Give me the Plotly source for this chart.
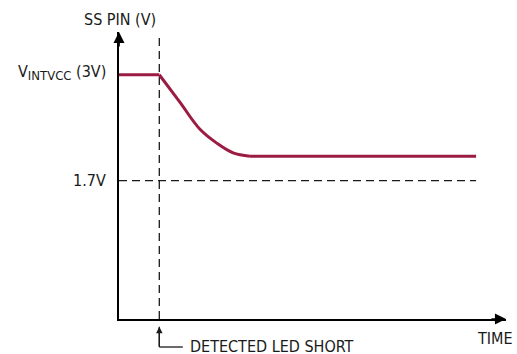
import plotly.graph_objects as go

# SS pin voltage after a detected LED short (time in arbitrary units)
time = [0.0, 1.01, 1.53, 2.03, 2.45, 2.86, 3.28, 8.95]
ss_pin = [3.0, 3.0, 2.66, 2.33, 2.16, 2.04, 2.0, 2.0]

t_short = 1.01
v_intvcc = 3.0
v_ref = 1.7
t_end = 8.95
v_top = 3.49

CURVE = "#9b1b42"
INK = "#1a1a1a"
FONT = "DejaVu Sans Condensed, Liberation Sans Narrow, sans-serif"

fig = go.Figure()

# dashed markers: short-detect time and 1.7V level
fig.add_trace(go.Scatter(
    x=[t_short, t_short], y=[0, v_top], mode="lines",
    line=dict(color=INK, width=1.3, dash="8px,5px"), hoverinfo="skip"
))
fig.add_trace(go.Scatter(
    x=[0, t_end], y=[v_ref, v_ref], mode="lines",
    line=dict(color=INK, width=1.3, dash="8px,5px"), hoverinfo="skip"
))

# SS pin: flat, smooth decay, then flat again
fig.add_trace(go.Scatter(
    x=time[:2], y=ss_pin[:2], mode="lines",
    line=dict(color=CURVE, width=3), hoverinfo="skip"
))
fig.add_trace(go.Scatter(
    x=time[1:7], y=ss_pin[1:7], mode="lines",
    line=dict(color=CURVE, width=3, shape="spline", smoothing=1.0),
    hoverinfo="skip"
))
fig.add_trace(go.Scatter(
    x=time[6:], y=ss_pin[6:], mode="lines",
    line=dict(color=CURVE, width=3), hoverinfo="skip"
))

ann = []
# axis arrowheads
ann.append(dict(x=0, y=1, xref="x", yref="paper", ax=0, ay=16, text="",
                showarrow=True, arrowhead=2, arrowsize=1.3, arrowwidth=1.7,
                arrowcolor="black", standoff=0))
ann.append(dict(x=1, y=0, xref="paper", yref="y", ax=-16, ay=0, text="",
                showarrow=True, arrowhead=2, arrowsize=1.3, arrowwidth=1.7,
                arrowcolor="black", standoff=0))
# detected short pointer
ann.append(dict(x=t_short, y=-0.027, xref="x", yref="paper", ax=0, ay=21,
                text="", showarrow=True, arrowhead=2, arrowsize=1.0,
                arrowwidth=1.3, arrowcolor=INK, standoff=0))

txt = dict(font=dict(family=FONT, size=16, color=INK), showarrow=False)
ann.append(dict(x=0, y=1, xref="x", yref="paper", xshift=1, yshift=13,
                yanchor="middle", xanchor="center", text="SS PIN (V)", **txt))
ann.append(dict(x=0, y=v_intvcc, xref="x", yref="y", xshift=-11, yshift=2,
                xanchor="right", yanchor="middle",
                text="V<sub><span style='font-size:13px'>INTVCC</span></sub> (3V)",
                **txt))
ann.append(dict(x=0, y=v_ref, xref="x", yref="y", xshift=-11, xanchor="right",
                yanchor="middle", text="1.7V", **txt))
ann.append(dict(x=1, y=0, xref="paper", yref="y", xshift=9, yshift=-19,
                xanchor="right", yanchor="middle", text="TIME", **txt))
ann.append(dict(x=t_short, y=-0.0976, xref="x", yref="paper", xshift=29, yshift=1,
                xanchor="left", yanchor="middle", text="DETECTED LED SHORT", **txt))

fig.update_layout(
    width=517, height=354,
    margin=dict(l=119, r=11, t=32, b=35),
    paper_bgcolor="white", plot_bgcolor="white",
    showlegend=False,
    annotations=ann,
    shapes=[dict(type="line", xref="x", yref="paper",
                 x0=t_short, x1=t_short, y0=-0.027, y1=-0.0976,
                 line=dict(color=INK, width=1.3)),
            dict(type="line", xref="x", yref="paper",
                 x0=t_short, x1=1.6, y0=-0.0976, y1=-0.0976,
                 line=dict(color=INK, width=1.3))],
)
fig.update_xaxes(range=[0, 9.7], showline=True, linecolor="black", linewidth=1.7,
                 showgrid=False, zeroline=False, showticklabels=False, ticks="")
fig.update_yaxes(range=[0, 3.525], showline=True, linecolor="black", linewidth=1.7,
                 showgrid=False, zeroline=False, showticklabels=False, ticks="")

# drop the default body margin so the 517x354 figure fills the window
fig.write_html("out.html", config={"displayModeBar": False},
               post_script="document.body.style.margin='0';"
                           "document.body.style.overflow='hidden';")
